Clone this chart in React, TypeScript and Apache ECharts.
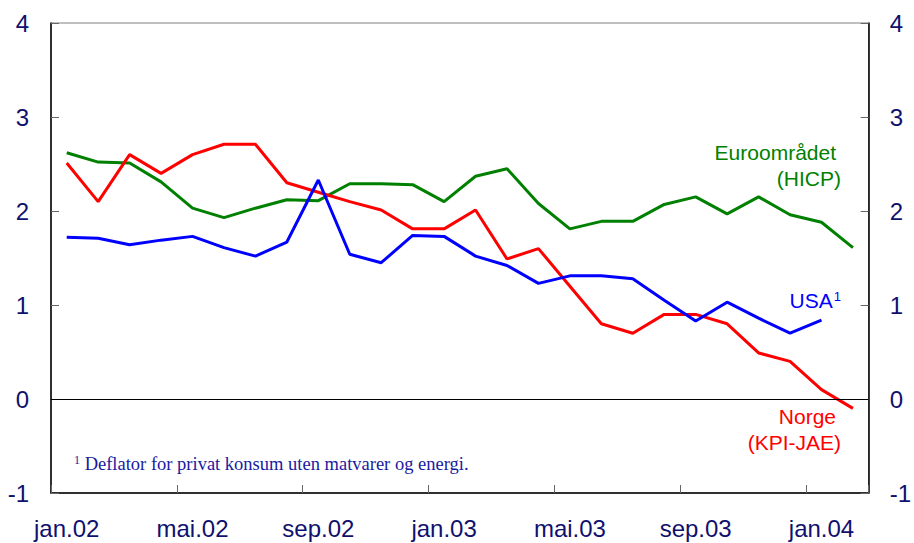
import React, { useEffect, useRef } from "react";
import * as echarts from "echarts";

const categories = [
  "jan.02", "feb.02", "mar.02", "apr.02", "mai.02", "jun.02", "jul.02", "aug.02",
  "sep.02", "okt.02", "nov.02", "des.02", "jan.03", "feb.03", "mar.03", "apr.03",
  "mai.03", "jun.03", "jul.03", "aug.03", "sep.03", "okt.03", "nov.03", "des.03",
  "jan.04", "feb.04",
];

const euroHICP = [
  2.62, 2.52, 2.51, 2.31, 2.03, 1.93, 2.03, 2.12, 2.11, 2.29, 2.29, 2.28, 2.1,
  2.37, 2.45, 2.08, 1.81, 1.89, 1.89, 2.07, 2.15, 1.97, 2.15, 1.96, 1.88, 1.61,
];

const norgeKPIJAE = [
  2.51, 2.1, 2.6, 2.4, 2.6, 2.71, 2.71, 2.3, 2.2, 2.1, 2.01, 1.81, 1.81,
  2.01, 1.49, 1.6, 1.2, 0.8, 0.7, 0.9, 0.9, 0.8, 0.49, 0.4, 0.1, -0.1,
];

const usaDeflator = [
  1.72, 1.71, 1.64, 1.69, 1.73, 1.61, 1.52, 1.67, 2.33, 1.54, 1.45, 1.74, 1.73,
  1.52, 1.42, 1.23, 1.31, 1.31, 1.28, 1.05, 0.83, 1.03, 0.86, 0.7, 0.84, null,
];

const yMin = -1;
const yMax = 4;
const yStep = 1;

const TEXT = "#10106e";

export default function App() {
  const ref = useRef<HTMLDivElement>(null);

  useEffect(() => {
    document.body.style.margin = "0";
    if (!ref.current) return;
    const chart = echarts.init(ref.current, undefined, { renderer: "svg" });

    const yAxisBase = (position: "left" | "right") => ({
      type: "value" as const,
      position,
      min: yMin,
      max: yMax,
      interval: yStep,
      axisLine: { show: true, lineStyle: { color: "#000", width: 1.5 } },
      axisTick: { show: true, inside: true, length: 8, lineStyle: { color: "#666" } },
      axisLabel: {
        show: true,
        margin: position === "left" ? 22 : 21,
        color: TEXT,
        fontSize: 24,
        fontFamily: "Liberation Sans, Arial, sans-serif",
      },
      splitLine: { show: false },
    });

    chart.setOption({
      animation: false,
      backgroundColor: "#fff",
      grid: {
        left: 51,
        right: 42,
        top: 23,
        bottom: 50,
        show: true,
        borderColor: "#808080",
        borderWidth: 1,
        containLabel: false,
      },
      xAxis: {
        type: "category",
        data: categories,
        boundaryGap: true,
        axisLine: { show: true, onZero: false, lineStyle: { color: "#000", width: 1.5 } },
        axisTick: { show: true, inside: true, length: 8, interval: 3, lineStyle: { color: "#666" } },
        axisLabel: {
          interval: 3,
          margin: 23,
          color: TEXT,
          fontSize: 24,
          fontFamily: "Liberation Sans, Arial, sans-serif",
        },
        splitLine: { show: false },
      },
      yAxis: [yAxisBase("left"), yAxisBase("right")],
      series: [
        {
          name: "Euroområdet (HICP)",
          type: "line",
          data: euroHICP,
          symbol: "none",
          lineStyle: { color: "#008000", width: 3 },
          markLine: {
            silent: true,
            symbol: ["none", "none"],
            label: { show: false },
            lineStyle: { color: "#000", width: 1, type: "solid" },
            data: [{ yAxis: 0 }],
          },
        },
        {
          name: "Norge (KPI-JAE)",
          type: "line",
          data: norgeKPIJAE,
          symbol: "none",
          lineStyle: { color: "#ff0000", width: 3 },
        },
        {
          name: "USA",
          type: "line",
          data: usaDeflator,
          symbol: "none",
          connectNulls: false,
          lineStyle: { color: "#0000ff", width: 3 },
        },
      ],
      graphic: [
        {
          type: "text",
          right: 914 - 836,
          top: 142,
          style: {
            text: "Euroområdet",
            fill: "#008000",
            font: "21px Liberation Sans, Arial, sans-serif",
          },
        },
        {
          type: "text",
          right: 914 - 841,
          top: 168,
          style: {
            text: "(HICP)",
            fill: "#008000",
            font: "21px Liberation Sans, Arial, sans-serif",
          },
        },
        {
          type: "text",
          right: 914 - 841,
          top: 290,
          style: {
            text: "USA{s|1}",
            fill: "#0000ff",
            font: "21px Liberation Sans, Arial, sans-serif",
            rich: {
              s: {
                fontSize: 13,
                fill: "#0000ff",
                fontFamily: "Liberation Sans, Arial, sans-serif",
                verticalAlign: "top",
                padding: [0, 0, 8, 1],
              },
            },
          },
        },
        {
          type: "text",
          right: 914 - 836,
          top: 406,
          style: {
            text: "Norge",
            fill: "#ff0000",
            font: "21px Liberation Sans, Arial, sans-serif",
          },
        },
        {
          type: "text",
          right: 914 - 841,
          top: 432,
          style: {
            text: "(KPI-JAE)",
            fill: "#ff0000",
            font: "21px Liberation Sans, Arial, sans-serif",
          },
        },
        {
          type: "text",
          left: 74,
          top: 454,
          style: {
            text: "{s|1} Deflator for privat konsum uten matvarer og energi.",
            fill: "#1a1aa0",
            font: "18.5px Liberation Serif, Times New Roman, serif",
            rich: {
              s: {
                fontSize: 12,
                fill: "#1a1aa0",
                fontFamily: "Liberation Serif, Times New Roman, serif",
                padding: [0, 0, 8, 0],
              },
            },
          },
        },
      ],
    });

    return () => {
      chart.dispose();
    };
  }, []);

  return <div ref={ref} style={{ width: 914, height: 543 }} />;
}
